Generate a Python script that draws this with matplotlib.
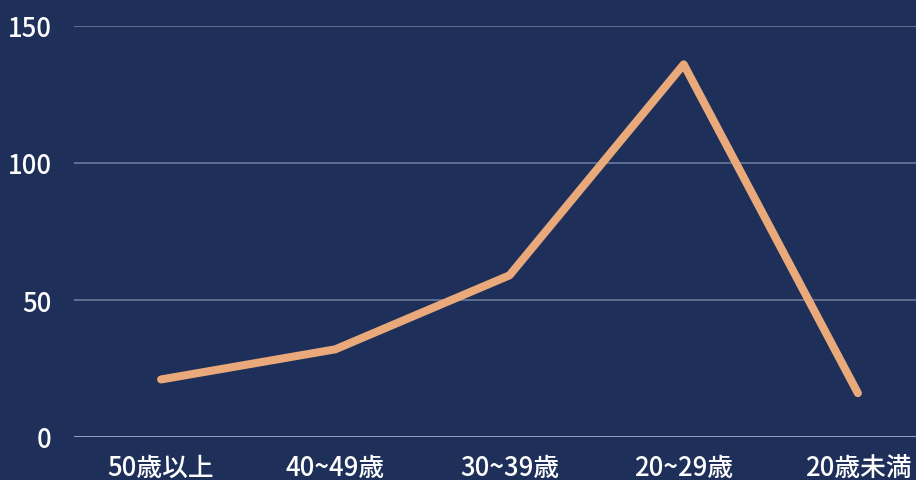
import matplotlib
matplotlib.use('Agg')
import matplotlib.pyplot as plt

categories = ['50歳以上', '40~49歳', '30~39歳', '20~29歳', '20歳未満']
values = [21, 32, 59, 136, 16]
y_ticks = [0, 50, 100, 150]

plt.rcParams['font.family'] = ['Noto Sans CJK JP', 'DejaVu Sans']

bg = '#1e3059'
fig = plt.figure(figsize=(9.16, 4.81), dpi=100)
fig.patch.set_facecolor(bg)
# right edge of the category band runs past the figure, as in the original
ax = fig.add_axes([74 / 916, 1 - 438 / 481, 871 / 916, (438 - 27) / 481])
ax.set_facecolor(bg)

ax.plot(range(len(categories)), values, color='#eaa97a', lw=5.8,
        solid_capstyle='round', solid_joinstyle='round', clip_on=False, zorder=3)

ax.set_xlim(-0.5, len(categories) - 0.5)
ax.set_ylim(0, 150)
ax.set_yticks(y_ticks)
ax.set_xticks(range(len(categories)))
ax.set_xticklabels(categories)

for v in y_ticks[1:]:
    ax.axhline(v, color='#6c7a9b', lw=1.2, zorder=1)
ax.axhline(0, color='#aab4d2', lw=1.2, zorder=2)

for s in ax.spines.values():
    s.set_visible(False)
ax.tick_params(axis='both', length=0, colors='white', labelsize=18.5)
ax.tick_params(axis='y', pad=16)
ax.tick_params(axis='x', pad=12)
for lab in ax.get_xticklabels() + ax.get_yticklabels():
    lab.set_fontweight('medium')

fig.savefig('out.png', dpi=100, facecolor=bg)
